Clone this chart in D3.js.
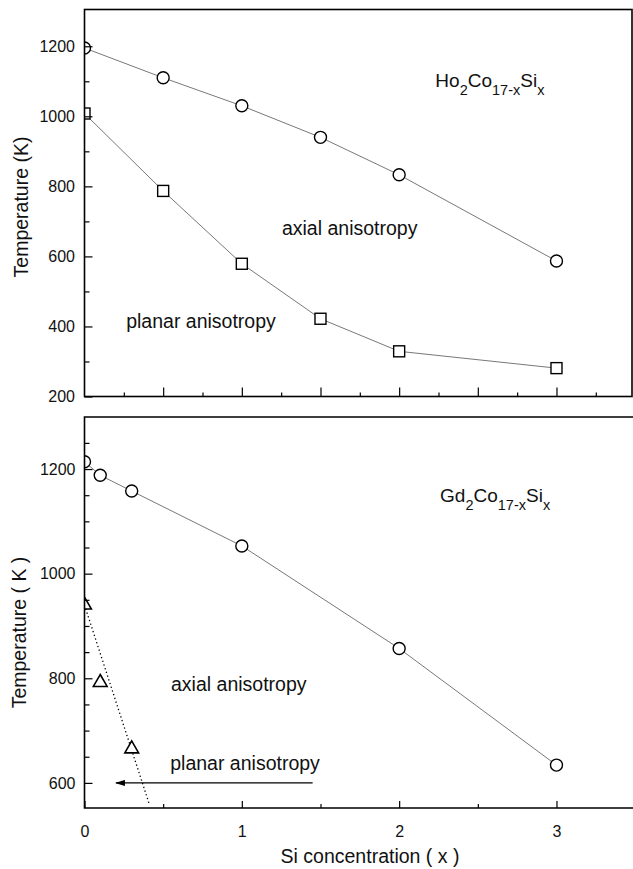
<!DOCTYPE html>
<html>
<head>
<meta charset="utf-8">
<script src="https://cdn.jsdelivr.net/npm/d3@7"></script>
<style>
  html, body { margin: 0; padding: 0; background: #fff; }
  svg { display: block; font-family: "Liberation Sans", Arial, Helvetica, sans-serif; }
</style>
</head>
<body>
<svg id="chart" width="633" height="869"></svg>
<script>
// Ho2Co17-xSix: spin-reorientation boundaries
const hoX = [0, 0.5, 1, 1.5, 2, 3];
const hoUpper = [1195, 1110, 1030, 940, 833, 587];   // circles
const hoLower = [1008, 787, 579, 422, 329, 281];     // squares

// Gd2Co17-xSix
const gdX = [0, 0.1, 0.3, 1, 2, 3];
const gdUpper = [1214, 1188, 1158, 1053, 857, 634];  // circles
const gdTriX = [0, 0.1, 0.3];
const gdTri = [940, 792, 665];                        // triangles
const gdTrendX = [0, 0.41];
const gdTrendT = [940, 561];                          // dotted guide
const gdArrowX = [1.45, 0.2];
const gdArrowT = [600, 600];

// axis ticks
const topYMajor = [200, 400, 600, 800, 1000, 1200];
const topYMinor = [300, 500, 700, 900, 1100];
const topXMajor = [0.5, 1, 1.5, 2, 2.5, 3];
const topXMinor = [0.25, 0.75, 1.25, 1.75, 2.25, 2.75, 3.25];
const botYMajor = [600, 800, 1000, 1200];
const botYMinor = [650, 700, 750, 850, 900, 950, 1050, 1100, 1150, 1250];
const botXMajor = [0, 1, 2, 3];
const botXMinor = [0.5, 1.5, 2.5];

const svg = d3.select("#chart");
svg.append("rect").attr("width", 633).attr("height", 869).attr("fill", "#fff");

const defs = svg.append("defs");
defs.append("marker")
  .attr("id", "arrowhead").attr("viewBox", "0 0 10 6")
  .attr("refX", 9).attr("refY", 3)
  .attr("markerWidth", 10).attr("markerHeight", 6)
  .attr("markerUnits", "userSpaceOnUse").attr("orient", "auto")
  .append("path").attr("d", "M0,0L10,3L0,6Z").attr("fill", "#000");

const left = 84.5, right = 632;
const x = d3.scaleLinear().domain([0, 3.48]).range([left, right]);

function panel(id, top, bottom, yDomain) {
  const y = d3.scaleLinear().domain(yDomain).range([bottom, top]);
  const g = svg.append("g");
  defs.append("clipPath").attr("id", id)
    .append("rect").attr("x", left).attr("y", top)
    .attr("width", right - left + 2).attr("height", bottom - top);
  return { y, g, top, bottom };
}

function styleAxis(sel) {
  sel.select(".domain").remove();
  sel.selectAll(".tick line").attr("stroke", "#000").attr("stroke-width", 1.2);
  sel.selectAll(".tick text").attr("fill", "#111").attr("font-size", 16)
    .attr("font-family", "Liberation Sans, Arial, sans-serif");
}

function circles(g, clip, xs, ts, y) {
  g.append("g").attr("clip-path", `url(#${clip})`)
    .selectAll("circle").data(xs).join("circle")
    .attr("cx", (d) => x(d)).attr("cy", (d, i) => y(ts[i])).attr("r", 6)
    .attr("fill", "#fff").attr("stroke", "#000").attr("stroke-width", 1.4);
}

function squares(g, clip, xs, ts, y) {
  g.append("g").attr("clip-path", `url(#${clip})`)
    .selectAll("rect").data(xs).join("rect")
    .attr("x", (d) => x(d) - 5.5).attr("y", (d, i) => y(ts[i]) - 5.5)
    .attr("width", 11).attr("height", 11)
    .attr("fill", "#fff").attr("stroke", "#000").attr("stroke-width", 1.4);
}

function triangles(g, clip, xs, ts, y) {
  const sym = d3.symbol().type(d3.symbolTriangle).size(82);
  g.append("g").attr("clip-path", `url(#${clip})`)
    .selectAll("path").data(xs).join("path")
    .attr("d", sym)
    .attr("transform", (d, i) => `translate(${x(d)},${y(ts[i])})`)
    .attr("fill", "#fff").attr("stroke", "#000").attr("stroke-width", 1.6);
}

function connect(g, clip, xs, ts, y, dash) {
  const line = d3.line().x((d) => x(d[0])).y((d) => y(d[1]));
  g.append("path").attr("clip-path", `url(#${clip})`)
    .attr("d", line(xs.map((v, i) => [v, ts[i]])))
    .attr("fill", "none").attr("stroke", dash ? "#000" : "#555")
    .attr("stroke-width", dash ? 1.3 : 0.8)
    .attr("stroke-dasharray", dash || null);
}

function formula(g, px, py, parts) {
  const t = g.append("text").attr("x", px).attr("y", py)
    .attr("font-size", 19).attr("fill", "#111");
  parts.forEach(([s, sub]) => {
    if (sub) t.append("tspan").attr("font-size", 14.5).attr("dy", 8).text(s);
    else t.append("tspan").attr("dy", t.selectAll("tspan").size() ? -8 : 0).text(s);
  });
}

function label(g, px, py, s) {
  g.append("text").attr("x", px).attr("y", py).attr("font-size", 19.5)
    .attr("fill", "#111").text(s);
}

// ---------- upper panel: Ho2Co17-xSix ----------
const P1 = panel("clipTop", 9.5, 396.5, [200, 1305]);
{
  const { y, g, top, bottom } = P1;
  connect(g, "clipTop", hoX, hoUpper, y);
  connect(g, "clipTop", hoX, hoLower, y);
  circles(g, "clipTop", hoX, hoUpper, y);
  squares(g, "clipTop", hoX, hoLower, y);

  g.append("g").attr("transform", `translate(${left},0)`)
    .call(d3.axisLeft(y).tickValues(topYMajor).tickSize(-8).tickPadding(9.5).tickFormat(d3.format("d")))
    .call(styleAxis);
  g.append("g").attr("transform", `translate(${left},0)`)
    .call(d3.axisLeft(y).tickValues(topYMinor).tickSize(-5).tickFormat(""))
    .call(styleAxis);
  g.append("g").attr("transform", `translate(0,${bottom})`)
    .call(d3.axisBottom(x).tickValues(topXMajor).tickSize(-9).tickFormat(""))
    .call(styleAxis);
  g.append("g").attr("transform", `translate(0,${bottom})`)
    .call(d3.axisBottom(x).tickValues(topXMinor).tickSize(-4).tickFormat(""))
    .call(styleAxis);

  g.append("rect").attr("x", left).attr("y", top)
    .attr("width", right - left).attr("height", bottom - top)
    .attr("fill", "none").attr("stroke", "#000").attr("stroke-width", 1.6);

  g.append("text")
    .attr("transform", `translate(28,${(top + bottom) / 2 + 4}) rotate(-90)`)
    .attr("text-anchor", "middle").attr("font-size", 19.5).attr("fill", "#111")
    .text("Temperature (K)");

  formula(g, x(2.23), y(1060), [["Ho"], ["2", 1], ["Co"], ["17-x", 1], ["Si"], ["x", 1]]);
  label(g, x(1.255), y(660), "axial anisotropy");
  label(g, x(0.265), y(397), "planar anisotropy");
}

// ---------- lower panel: Gd2Co17-xSix ----------
const P2 = panel("clipBot", 417, 808, [552, 1299.5]);
{
  const { y, g, top, bottom } = P2;
  connect(g, "clipBot", gdX, gdUpper, y);
  connect(g, "clipBot", gdTrendX, gdTrendT, y, "1.3,2.6");
  circles(g, "clipBot", gdX, gdUpper, y);
  triangles(g, "clipBot", gdTriX, gdTri, y);

  // arrow pointing to lower Si content
  g.append("line")
    .attr("x1", x(gdArrowX[0])).attr("y1", y(gdArrowT[0]))
    .attr("x2", x(gdArrowX[1])).attr("y2", y(gdArrowT[1]))
    .attr("stroke", "#000").attr("stroke-width", 1.3)
    .attr("marker-end", "url(#arrowhead)");

  g.append("g").attr("transform", `translate(${left},0)`)
    .call(d3.axisLeft(y).tickValues(botYMajor).tickSize(-8).tickPadding(9).tickFormat(d3.format("d")))
    .call(styleAxis);
  g.append("g").attr("transform", `translate(${left},0)`)
    .call(d3.axisLeft(y).tickValues(botYMinor).tickSize(-5).tickFormat(""))
    .call(styleAxis);
  g.append("g").attr("transform", `translate(0,${bottom})`)
    .call(d3.axisBottom(x).tickValues(botXMajor).tickSize(-7).tickPadding(17.5).tickFormat(d3.format("d")))
    .call(styleAxis);
  g.append("g").attr("transform", `translate(0,${bottom})`)
    .call(d3.axisBottom(x).tickValues(botXMinor).tickSize(-4).tickFormat(""))
    .call(styleAxis);

  g.append("path")
    .attr("d", `M${right + 2},${top}H${left}V${bottom}H${right + 2}`)
    .attr("fill", "none").attr("stroke", "#000").attr("stroke-width", 1.6);

  g.append("text")
    .attr("transform", `translate(26,${(top + bottom) / 2 + 20}) rotate(-90)`)
    .attr("text-anchor", "middle").attr("font-size", 19.5).attr("fill", "#111")
    .text("Temperature ( K )");

  g.append("text").attr("x", 370).attr("y", 863)
    .attr("text-anchor", "middle").attr("font-size", 19.5).attr("fill", "#111")
    .text("Si concentration ( x )");

  formula(g, x(2.26), y(1122), [["Gd"], ["2", 1], ["Co"], ["17-x", 1], ["Si"], ["x", 1]]);
  label(g, x(0.55), y(776), "axial anisotropy");
  label(g, x(0.545), y(625), "planar anisotropy");
}
</script>
</body>
</html>
